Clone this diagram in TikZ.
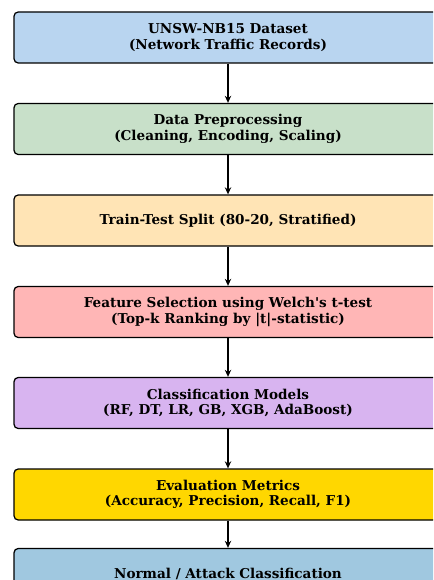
\documentclass[tikz,border=0pt]{standalone}
\usepackage{fontspec}
\setmainfont{DejaVu Serif}[Ligatures=TeXOff]
\usetikzlibrary{arrows.meta}

\definecolor{cdata}{RGB}{185,213,240}
\definecolor{cprep}{RGB}{200,224,201}
\definecolor{csplit}{RGB}{255,228,181}
\definecolor{cfeat}{RGB}{255,182,182}
\definecolor{cmodel}{RGB}{216,180,240}
\definecolor{ceval}{RGB}{255,215,0}
\definecolor{cout}{RGB}{160,200,224}

\begin{document}
\begin{tikzpicture}[
  stage/.style={draw=black, line width=0.9pt, rounded corners=3pt,
    minimum width=10.7cm, minimum height=1.275cm, align=center,
    font=\fontsize{9.65}{11}\selectfont\bfseries, inner sep=0pt},
  flow/.style={line width=0.9pt, -{Stealth[length=5pt,width=4.5pt]}}]
\useasboundingbox (0,0) rectangle (10.825,-14.5);
\clip (0,0) rectangle (10.825,-14.5);

% Stages
\node[stage, fill=cdata]  (dataset) at (5.7, -0.9375) {UNSW-NB15 Dataset\\(Network Traffic Records)};
\node[stage, fill=cprep]  (prep)    at (5.7, -3.225)  {Data Preprocessing\\(Cleaning, Encoding, Scaling)};
\node[stage, fill=csplit] (split)   at (5.7, -5.5125) {Train-Test Split (80-20, Stratified)};
\node[stage, fill=cfeat]  (feat)    at (5.7, -7.8)    {Feature Selection using Welch's t-test\\(Top-k Ranking by |t|-statistic)};
\node[stage, fill=cmodel] (models)  at (5.7, -10.075) {Classification Models\\(RF, DT, LR, GB, XGB, AdaBoost)};
\node[stage, fill=ceval]  (eval)    at (5.7, -12.3625){Evaluation Metrics\\(Accuracy, Precision, Recall, F1)};
\node[stage, fill=cout]   (result)  at (5.7, -14.35)  {Normal / Attack Classification};

% Arrows
\draw[flow] (dataset) -- (prep);
\draw[flow] (prep) -- (split);
\draw[flow] (split) -- (feat);
\draw[flow] (feat) -- (models);
\draw[flow] (models) -- (eval);
\draw[flow] (eval) -- (result);

\end{tikzpicture}
\end{document}
